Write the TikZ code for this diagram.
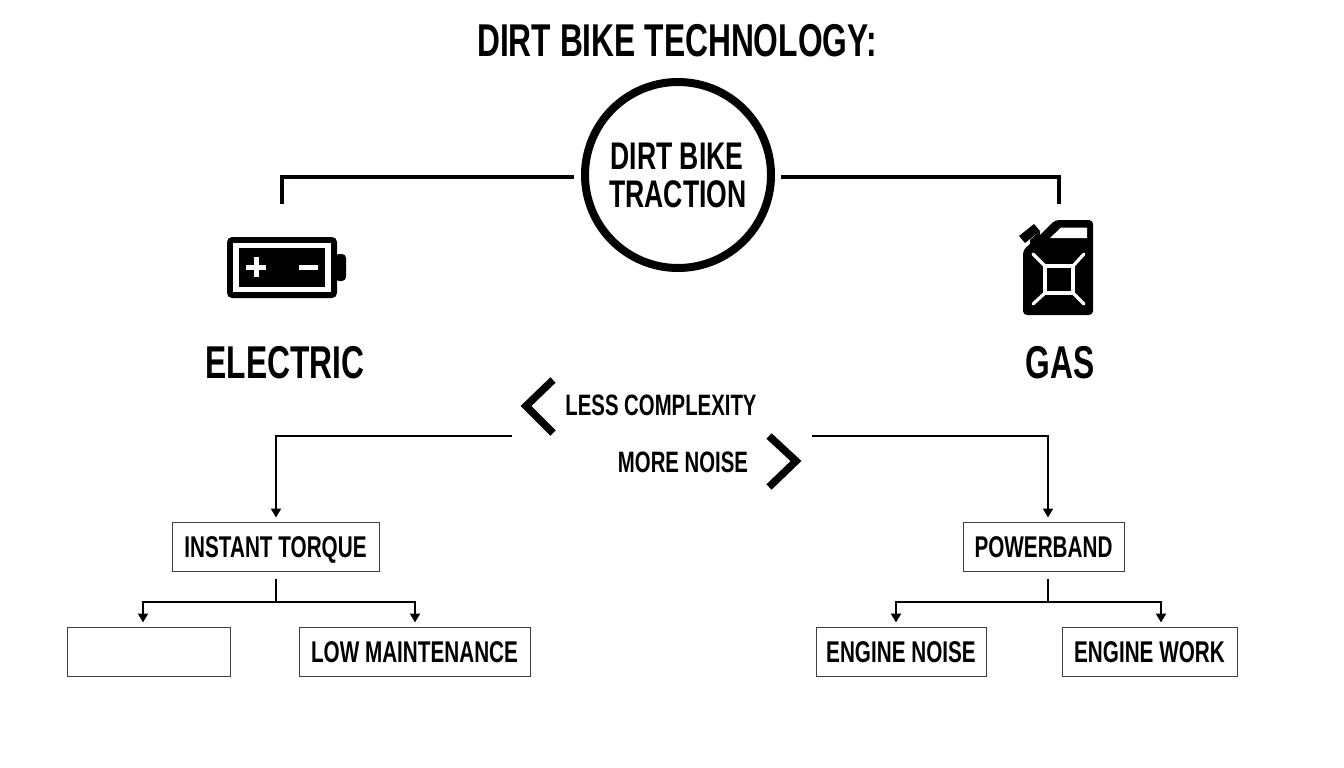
\documentclass[tikz,border=0pt]{standalone}
\usepackage{fontspec}
\newfontfamily\condfont[FakeStretch=0.69,BoldFont={Liberation Sans Bold}]{Liberation Sans}
\usetikzlibrary{arrows.meta}
\tikzset{
  lab/.style={inner sep=0pt,align=center,font=\condfont\bfseries\fontsize{#1}{#1}\selectfont,text=black},
  box/.style={draw=black!75,line width=1pt,fill=white,minimum height=49pt,inner sep=0pt,text height=21.5pt,text depth=0pt,font=\condfont\bfseries\fontsize{30}{30}\selectfont},
  thick line/.style={line width=4pt,draw=black},
  feed/.style={line width=2.6pt,draw=black,-{Triangle[length=9pt,width=10pt]}},
  stem/.style={line width=2.6pt,draw=black},
  chev/.style={line width=7.5pt,draw=black,miter limit=10},
}
\begin{document}
\begin{tikzpicture}[x=1pt,y=-1pt]
\useasboundingbox (0,0) rectangle (1344,768);
\fill[white] (0,0) rectangle (1344,768);
\node[lab=46] (title) at (677,41) {DIRT BIKE TECHNOLOGY:};
\node[circle,draw=black,line width=8pt,minimum size=186pt,inner sep=0pt] (hub) at (678,175) {};
\node[lab=38.5] (hubtop) at (677,156) {DIRT BIKE};
\node[lab=38.5] (hubbot) at (678,194) {TRACTION};
\coordinate (hl) at (574,177);
\coordinate (hr) at (781,177);
\coordinate (bt) at (282,204);
\coordinate (gt) at (1059,204);
\draw[thick line] (hl) -| (bt);
\draw[thick line] (hr) -| (gt);
% battery
\fill[black,rounded corners=4pt] (335,254) -- (346,254) -- (346,281) -- (335,281) -- cycle;
\fill[black,rounded corners=5pt] (227,237) rectangle (337,298);
\fill[white] (233,243) rectangle (331,292);
\fill[black] (239,248) rectangle (325,287);
\fill[white] (246,264.5) rectangle (266,269.5);
\fill[white] (253.5,257) rectangle (258.5,277);
\fill[white] (299,264.5) rectangle (318,269.5);
% can
\fill[black,rounded corners=4pt] (1023,250) -- (1037,238) -- (1055,220) -- (1093,220) -- (1093,315) -- (1023,315) -- cycle;
\fill[black] (1030,240) -- (1040,231) -- (1040,240) -- (1030,250) -- cycle;
\fill[black] (1019,236) -- (1034,224) -- (1040,231) -- (1025,243) -- cycle;
\fill[white] (1050,238) -- (1061,227.5) -- (1087,227.5) -- (1087,238) -- cycle;
\draw[white,line width=3.2pt] (1045,266) rectangle (1073,293);
\draw[white,line width=3.2pt,line cap=round] (1033,254) -- (1045,266) (1084,254) -- (1073,266) (1033,304) -- (1045,293) (1084,304) -- (1073,293);
\node[lab=46] (elec) at (285,363) {ELECTRIC};
\node[lab=46] (gas) at (1060,363) {GAS};
\node[lab=29.5] (less) at (661,405.5) {LESS COMPLEXITY};
\node[lab=29.5] (more) at (683,462) {MORE NOISE};
\coordinate (c1) at (553,380); \coordinate (c2) at (526,406); \coordinate (c3) at (553,433);
\coordinate (d1) at (769,436); \coordinate (d2) at (796,461); \coordinate (d3) at (769,487);
\draw[chev] (c1) -- (c2) -- (c3);
\draw[chev] (d1) -- (d2) -- (d3);
\node[box,minimum width=207pt] (torque) at (275.5,546.5) {INSTANT TORQUE};
\node[box,minimum width=161pt] (power) at (1043.5,546.5) {POWERBAND};
\node[box,minimum width=163pt] (blank) at (148.5,651.5) {};
\node[box,minimum width=231pt] (maint) at (414.5,651.5) {LOW MAINTENANCE};
\node[box,minimum width=170pt] (noise) at (901,651.5) {ENGINE NOISE};
\node[box,minimum width=175pt] (work) at (1149.5,651.5) {ENGINE WORK};
\coordinate (ll) at (512,436);
\coordinate (rr) at (812,436);
\draw[feed,shorten >=4pt] (ll) -| ([xshift=0.5pt]torque.north);
\draw[feed,shorten >=4pt] (rr) -| ([xshift=4.5pt]power.north);
\coordinate (th) at (276,602);
\coordinate (ph) at (1048,602);
\draw[stem] ([xshift=0.5pt,yshift=-7pt]torque.south) -- (th);
\draw[stem] ([xshift=4.5pt,yshift=-7pt]power.south) -- (ph);
\draw[feed,shorten >=4pt] (th) -| ([xshift=-5.5pt]blank.north);
\draw[feed,shorten >=4pt] (th) -| ([xshift=0.5pt]maint.north);
\draw[feed,shorten >=4pt] (ph) -| ([xshift=-5pt]noise.north);
\draw[feed,shorten >=4pt] (ph) -| ([xshift=11.5pt]work.north);
\end{tikzpicture}
\end{document}
